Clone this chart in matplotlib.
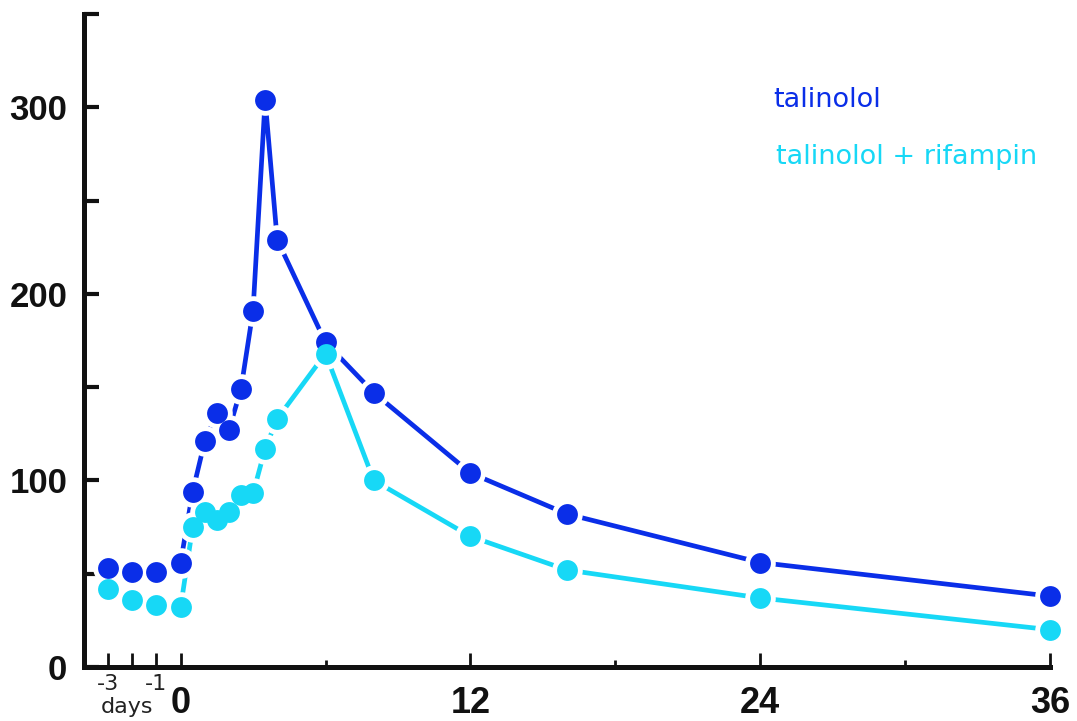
import matplotlib.pyplot as plt

# pre-dose baseline days (plotted on the hour scale, one unit per day)
pre_days = [-3, -2, -1]
tal_pre = [53, 51, 51]
rif_pre = [42, 36, 33]

# hours after dose
hours = [0, 0.5, 1, 1.5, 2, 2.5, 3, 3.5, 4, 6, 8, 12, 16, 24, 36]
talinolol = [56, 94, 121, 136, 127, 149, 191, 304, 229, 174, 147, 104, 82, 56, 38]
tal_rifampin = [32, 75, 83, 79, 83, 92, 93, 117, 133, 168, 100, 70, 52, 37, 20]

c_tal = '#0a2ee8'
c_rif = '#17d8f6'
num_font = 'Liberation Sans'

W, H = 1077, 721
fig = plt.figure(figsize=(W / 100, H / 100), dpi=100)
ax = fig.add_axes([84 / W, 54 / H, 966 / W, 653 / H])

ms = 15
halo = 22

# connecting lines
ax.plot(hours, talinolol, color=c_tal, lw=3.4, zorder=2, solid_capstyle='butt')
ax.plot(hours, tal_rifampin, color=c_rif, lw=3.4, zorder=2, solid_capstyle='butt')

# white rings leave a gap between line and marker
for xs, ys in [(hours, talinolol), (hours, tal_rifampin),
               (pre_days, tal_pre), (pre_days, rif_pre)]:
    ax.plot(xs, ys, ls='none', marker='o', ms=halo, mfc='white', mec='none',
            zorder=3, clip_on=False)

# markers
ax.plot(pre_days + hours, tal_pre + talinolol, ls='none', marker='o', ms=ms,
        mfc=c_tal, mec='none', zorder=4, clip_on=False)
ax.plot(pre_days + hours, rif_pre + tal_rifampin, ls='none', marker='o', ms=ms,
        mfc=c_rif, mec='none', zorder=5, clip_on=False)

ax.set_xlim(-4, 36)
ax.set_ylim(0, 350)

for side in ['top', 'right']:
    ax.spines[side].set_visible(False)
for side in ['left', 'bottom']:
    ax.spines[side].set_linewidth(3.6)
    ax.spines[side].set_color('#111111')

ax.set_yticks(range(0, 351, 50))
ax.set_yticklabels(['0', '', '100', '', '200', '', '300', ''])
ax.tick_params(axis='y', direction='in', length=11, width=3, color='#111111',
               pad=12)

ax.set_xticks([-3, -2, -1, 0, 12, 24, 36])
ax.set_xticklabels(['', '', '', '0', '12', '24', '36'])
ax.set_xticks([6, 18, 30], minor=True)
ax.tick_params(axis='x', which='major', direction='in', length=10, width=2,
               color='#111111', pad=14)
ax.tick_params(axis='x', which='minor', direction='in', length=5, width=2,
               color='#111111')

for lab in ax.get_yticklabels():
    lab.set_fontfamily(num_font)
    lab.set_fontweight('bold')
    lab.set_fontsize(25)
    lab.set_color('#111111')
for lab in ax.get_xticklabels():
    lab.set_fontfamily(num_font)
    lab.set_fontweight('bold')
    lab.set_fontsize(26)
    lab.set_color('#111111')

# day labels for the baseline period
for d, s in [(-3, '-3'), (-1, '-1')]:
    ax.text(d, -3.5, s, ha='center', va='top', fontsize=16, family='DejaVu Sans',
            color='#222222', clip_on=False)
ax.text(-2.2, -16, 'days', ha='center', va='top', fontsize=16,
        family='DejaVu Sans', color='#222222', clip_on=False)

# legend text
fig.text(773 / W, 1 - 100 / H, 'talinolol', fontsize=19.5, color=c_tal,
         family='DejaVu Sans', va='center', ha='left')
fig.text(776 / W, 1 - 157 / H, 'talinolol + rifampin', fontsize=19.5,
         color=c_rif, family='DejaVu Sans', va='center', ha='left')

fig.savefig('out.png', dpi=100)
